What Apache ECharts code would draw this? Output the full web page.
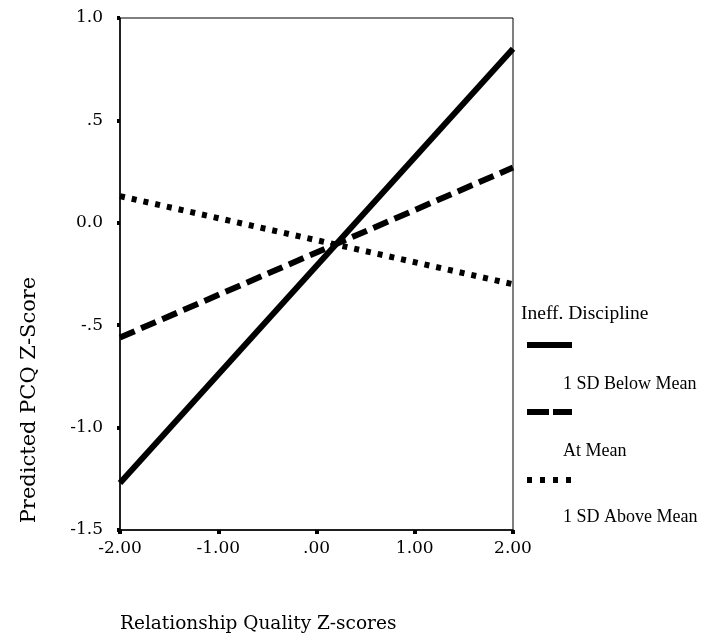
<!DOCTYPE html>
<html>
<head>
<meta charset="utf-8">
<script src="https://cdn.jsdelivr.net/npm/echarts@6/dist/echarts.min.js"></script>
<style>html,body{margin:0;padding:0;background:#fff;}#chart{width:703px;height:641px;}</style>
</head>
<body>
<div id="chart"></div>
<script>
// ---- data ----
const xValues = [-2, 2];
const seriesNames = ['1 SD Below Mean', 'At Mean', '1 SD Above Mean'];
const belowMean = [-1.27, 0.85];
const atMean = [-0.56, 0.27];
const aboveMean = [0.13, -0.30];
const xTickValues = [-2, -1, 0, 1, 2];
const xTickLabels = ['-2.00', '-1.00', '.00', '1.00', '2.00'];
const yTickValues = [-1.5, -1.0, -0.5, 0.0, 0.5, 1.0];
const yTickLabels = ['-1.5', '-1.0', '-.5', '0.0', '.5', '1.0'];
const xTitle = 'Relationship Quality Z-scores';
const yTitle = 'Predicted PCQ Z-Score';
const legendTitle = 'Ineff. Discipline';

const lineStyles = [
  { type: 'solid' },
  { type: [16, 7] },
  { type: [5, 7] }
];
const seriesValues = [belowMean, atMean, aboveMean];

function labelFor(values, labels) {
  return function (v) {
    for (let i = 0; i < values.length; i++) {
      if (Math.abs(values[i] - v) < 1e-6) return labels[i];
    }
    return '';
  };
}

const tickFont = 'DejaVu Serif';
const textFont = 'Liberation Serif';

const chart = echarts.init(document.getElementById('chart'));
const option = {
  backgroundColor: '#fff',
  animation: false,
  grid: {
    left: 120, top: 18, right: 190, bottom: 111,
    show: true, borderColor: '#000', borderWidth: 1, backgroundColor: 'transparent'
  },
  xAxis: {
    type: 'value', min: -2, max: 2, interval: 1,
    axisLine: { show: true, onZero: false, lineStyle: { color: '#000', width: 1.5 } },
    axisTick: { show: true, length: 4, lineStyle: { color: '#000', width: 4 } },
    splitLine: { show: false },
    axisLabel: {
      margin: 10, color: '#000', fontFamily: tickFont, fontSize: 17,
      formatter: labelFor(xTickValues, xTickLabels)
    }
  },
  yAxis: {
    type: 'value', min: -1.5, max: 1.0, interval: 0.5,
    axisLine: { show: true, onZero: false, lineStyle: { color: '#000', width: 1.5 } },
    axisTick: { show: true, length: 3, lineStyle: { color: '#000', width: 4 } },
    splitLine: { show: false },
    axisLabel: {
      margin: 17, color: '#000', fontFamily: tickFont, fontSize: 17,
      formatter: labelFor(yTickValues, yTickLabels)
    }
  },
  series: seriesNames.map((name, i) => ({
    name: name,
    type: 'line',
    data: xValues.map((x, j) => [x, seriesValues[i][j]]),
    showSymbol: false,
    symbol: 'none',
    lineStyle: Object.assign({ color: '#000', width: 6, cap: 'butt' }, lineStyles[i])
  })),
  graphic: [
    { type: 'text', left: 521, top: 304,
      style: { text: legendTitle, font: '19.5px "' + textFont + '"', fill: '#000' } },
    { type: 'line', shape: { x1: 527, y1: 345, x2: 572, y2: 345 },
      style: { stroke: '#000', lineWidth: 6 } },
    { type: 'text', left: 563, top: 375,
      style: { text: seriesNames[0], font: '18px "' + textFont + '"', fill: '#000' } },
    { type: 'line', shape: { x1: 527, y1: 412, x2: 572, y2: 412 },
      style: { stroke: '#000', lineWidth: 6, lineDash: [22, 4] } },
    { type: 'text', left: 563, top: 442,
      style: { text: seriesNames[1], font: '18px "' + textFont + '"', fill: '#000' } },
    { type: 'line', shape: { x1: 527, y1: 480, x2: 572, y2: 480 },
      style: { stroke: '#000', lineWidth: 6, lineDash: [5, 8] } },
    { type: 'text', left: 563, top: 508,
      style: { text: seriesNames[2], font: '18px "' + textFont + '"', fill: '#000' } },
    { type: 'text', left: 120, top: 615,
      style: { text: xTitle, font: '18.5px "' + tickFont + '"', fill: '#000' } },
    { type: 'text', x: 30, y: 400, rotation: Math.PI / 2,
      style: { text: yTitle, font: '21px "' + tickFont + '"', fill: '#000', textAlign: 'center', textVerticalAlign: 'middle' } }
  ]
};
chart.setOption(option);
</script>
</body>
</html>
